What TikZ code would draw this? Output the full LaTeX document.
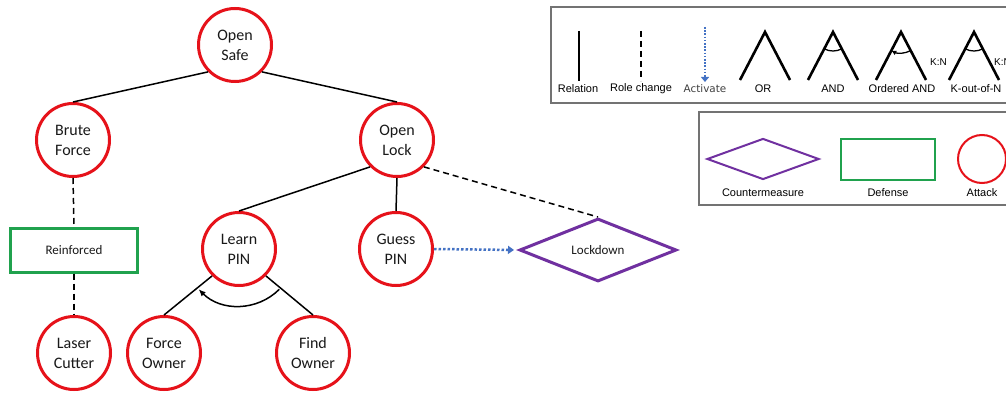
\documentclass[tikz,border=0pt]{standalone}
\usepackage{fontspec}
\newfontfamily\treefont{Carlito}
\newfontfamily\keyfont{Liberation Sans}
\newfontfamily\actfont{DejaVu Sans}
\usetikzlibrary{shapes.geometric,arrows.meta}
\definecolor{atkred}{RGB}{230,18,26}
\definecolor{defgreen}{RGB}{32,162,78}
\definecolor{cmpurple}{RGB}{112,48,160}
\definecolor{actblue}{RGB}{68,114,196}

\begin{document}
\begin{tikzpicture}[x=1pt, y=1pt,
    attack/.style={circle, draw=atkred, line width=3pt, minimum size=73pt, inner sep=0pt,
      align=center, text=black!90, font=\treefont\fontsize{16}{20}\selectfont},
    defense/.style={rectangle, draw=defgreen, line width=3pt, minimum width=127pt,
      minimum height=44pt, text=black!90, font=\treefont\fontsize{13}{16}\selectfont},
    cmeasure/.style={diamond, draw=cmpurple, line width=3pt, aspect=2.4, inner sep=0pt,
      minimum width=157pt, minimum height=63pt, text=black!90,
      font=\treefont\fontsize{13}{16}\selectfont},
    rel/.style={line width=1.5pt},
    role/.style={line width=1.5pt, dash pattern=on 6pt off 4pt},
    activate/.style={actblue, line width=2.5pt, dash pattern=on 2.5pt off 2pt,
      -{Triangle[length=6pt,width=8pt]}},
    keyline/.style={line width=2.6pt},
    keyarc/.style={line width=1.3pt},
    keylabel/.style={inner sep=0pt, font=\keyfont\fontsize{11}{13}\selectfont},
    keybox/.style={black!55, line width=1.2pt}]

  \fill[white] (0,0) rectangle (1006,394);
  \useasboundingbox (0,0) rectangle (1006,394);

  % attack tree
  \node[attack] (safe) at (235,349) {Open\\Safe};
  \node[attack] (brute) at (73,254) {Brute\\Force};
  \node[attack] (lock) at (397,254) {Open\\Lock};
  \node[defense] (reinf) at (74,144) {Reinforced};
  \node[attack] (laser) at (74,41) {Laser\\Cutter};
  \node[attack] (learn) at (239,145) {Learn\\PIN};
  \node[attack] (guess) at (396,145) {Guess\\PIN};
  \node[cmeasure] (lockdown) at (598,144) {Lockdown};
  \node[attack] (force) at (164,41) {Force\\Owner};
  \node[attack] (find) at (313,41) {Find\\Owner};

  \draw[rel] (safe.south west) -- (brute.north);
  \draw[rel] (safe.south east) -- (lock.north);
  \draw[rel] (lock.south west) -- (learn.north);
  \draw[rel] (lock.south) -- (guess.north);
  \draw[rel] (learn.south west) -- (force.north);
  \draw[rel] (learn.south east) -- (find.north);
  \draw[role] (brute.south) -- (reinf.north);
  \draw[role] (reinf.south) -- (laser.north);
  \draw[role] (lock.south east) -- (lockdown.north);
  \draw[activate, shorten >=4pt] (guess.east) -- (lockdown.west);
  % ordered AND under Learn PIN
  \draw[rel, -{Latex[length=7pt,width=6pt]}] ([shift={(-45:57)}]learn.center)
    arc[start angle=-45, end angle=-135, radius=57];

  % legend: connectors
  \draw[keybox] (1006,387) -- (551,387) -- (551,291) -- (1006,291);
  \draw[keyline] (579,363) -- (579,313);
  \node[keylabel] (relkey) at (578,305) {Relation};
  \draw[keyline, dash pattern=on 6pt off 4pt] (641,363) -- (641,313);
  \node[keylabel] (rolekey) at (641,305) {Role change};
  \draw[actblue, line width=1.6pt, dash pattern=on 1.6pt off 1.6pt,
    -{Triangle[length=5pt,width=8pt]}] (705,367) -- (705,312);
  \node[keylabel, font=\actfont\fontsize{10.4}{12}\selectfont, text=black!75] (actkey)
    at (705,305) {Activate};
  \draw[keyline] (740,314) -- (765,362) -- (790,314);
  \node[keylabel] (orkey) at (763,305) {OR};
  \draw[keyline] (808,314) -- (833,362) -- (858,314);
  \draw[keyarc] (833,362) ++(242.5:19) arc[start angle=242.5, end angle=297.5, radius=19];
  \node[keylabel] (andkey) at (833,305) {AND};
  \draw[keyline] (876,314) -- (901,362) -- (926,314);
  \draw[keyarc, -{Latex[length=5pt,width=5pt]}] (901,362) ++(297.5:21)
    arc[start angle=297.5, end angle=242.5, radius=21];
  \node[keylabel] (ordkey) at (902,305) {Ordered AND};
  \draw[keyline] (949,314) -- (974,362) -- (999,314);
  \draw[keyarc] (974,362) ++(242.5:19) arc[start angle=242.5, end angle=297.5, radius=19];
  \node[keylabel, font=\keyfont\fontsize{10}{12}\selectfont] (kleft) at (938.5,331.5) {K:N};
  \node[keylabel, font=\keyfont\fontsize{10}{12}\selectfont, anchor=west] (kright)
    at (994,331.5) {K:N};
  \node[keylabel] (kkey) at (976,305) {K-out-of-N};

  % legend: node kinds
  \draw[keybox] (1006,282) -- (699,282) -- (699,189) -- (1006,189);
  \node[cmeasure, line width=2pt, minimum width=112pt, minimum height=41pt] (cmkey)
    at (763,235) {};
  \node[keylabel] (cmlabel) at (763,201) {Countermeasure};
  \node[defense, line width=2pt, minimum width=94pt, minimum height=41pt] (defkey)
    at (888,234.5) {};
  \node[keylabel] (deflabel) at (888,201) {Defense};
  \node[attack, line width=2pt, minimum size=48pt] (atkkey) at (982,235) {};
  \node[keylabel] (atklabel) at (982,201) {Attack};
\end{tikzpicture}
\end{document}
